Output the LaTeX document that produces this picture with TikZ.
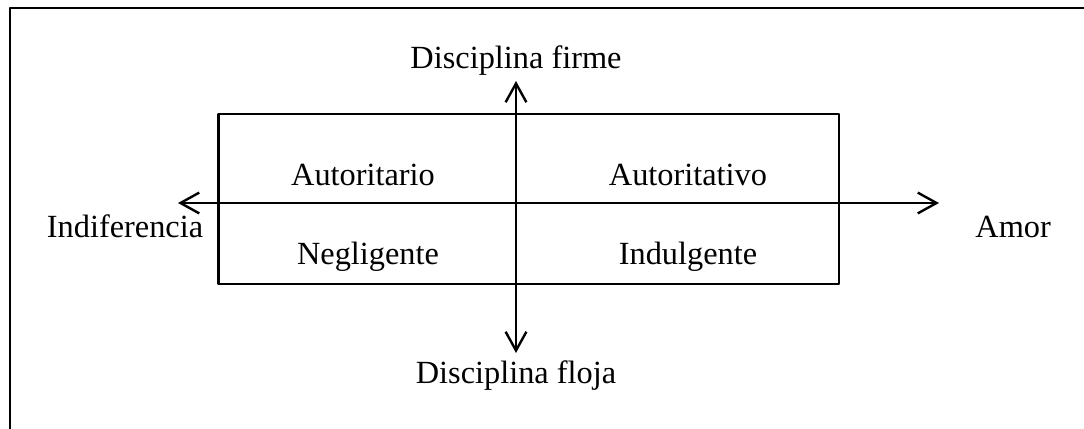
\documentclass[tikz,border=0pt]{standalone}
\usepackage{fontspec}
\setmainfont{Liberation Serif}
\usetikzlibrary{arrows.meta}
\begin{document}
\begin{tikzpicture}[>={Straight Barb[length=4.7mm,width=5.2mm]}, font=\fontsize{23}{28}\selectfont, line join=round, line cap=round]
	\tikzset{linea/.style={line width=1.7pt}, rotulo/.style={anchor=base, inner sep=0pt}}
	\def\xmin{5.46} \def\xmax{20.975} % Cuadro
	\def\ymin{3.6} \def\ymax{7.85}
	\clip (0,0) rectangle (27.1,10.7);
	\draw[line width=2pt] (0.25,-1) rectangle (28,10.5);
	\draw[linea] (\xmin,\ymin) rectangle (\xmax,\ymax);
	% Ejes
	\coordinate (izq) at (4.45,5.625);
	\coordinate (der) at (23.475,5.625);
	\coordinate (arr) at (12.9,8.675);
	\coordinate (aba) at (12.9,1.875);
	\draw[linea,<->] (izq)--(der);
	\draw[linea,<->] (aba)--(arr);
	% Rotulos
	\node[rotulo] (ind) at (3.125,4.775) {Indiferencia};
	\node[rotulo] (amor) at (25.33,4.775) {Amor};
	\node[rotulo] (firme) at (12.9,8.975) {Disciplina firme};
	\node[rotulo] (floja) at (12.9,1.125) {Disciplina floja};
	\node[rotulo] (autor) at (9.075,6.075) {Autoritario};
	\node[rotulo] (autva) at (17.2,6.075) {Autoritativo};
	\node[rotulo] (negl) at (9.2,4.1) {Negligente};
	\node[rotulo] (indul) at (17.2,4.1) {Indulgente};
\end{tikzpicture}
\end{document}
